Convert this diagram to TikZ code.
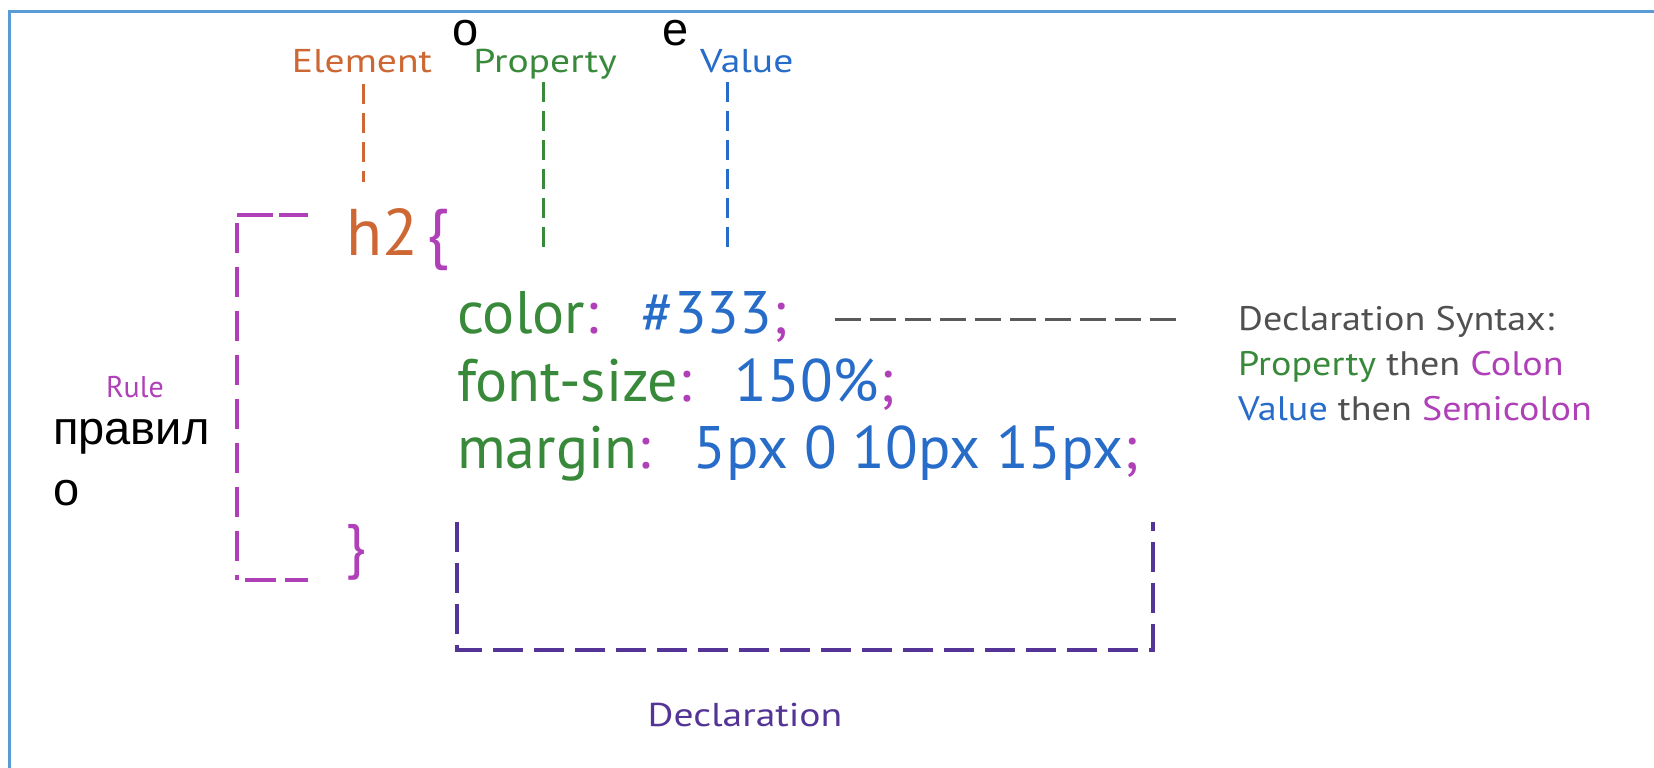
\documentclass[tikz,border=0pt]{standalone}
\usepackage{fontspec}
\setmainfont{PT Sans}
\newfontfamily\ovlfont{Liberation Sans}
\newfontfamily\widefont[FakeStretch=1.2]{PT Sans}
\newfontfamily\synfont[FakeStretch=1.12]{PT Sans}
\definecolor{cssorange}{RGB}{205,104,52}
\definecolor{cssgreen}{RGB}{56,138,58}
\definecolor{cssblue}{RGB}{38,108,200}
\definecolor{cssmag}{RGB}{176,64,184}
\definecolor{cssdecl}{RGB}{84,52,150}
\definecolor{cssgray}{RGB}{80,80,80}
\definecolor{cssline}{RGB}{90,90,90}
\definecolor{cssframe}{RGB}{91,155,213}
\newcommand\csP[1]{\textcolor{cssgreen}{#1}}
\newcommand\csV[1]{\textcolor{cssblue}{#1}}
\newcommand\csM[1]{\textcolor{cssmag}{#1}}
\tikzset{
  lbl/.style={font=\widefont\fontsize{33}{38}\selectfont, inner sep=0pt, anchor=base},
  codeline/.style={font=\fontsize{60}{72}\selectfont, inner sep=0pt, anchor=base west},
  ovl/.style={font=\ovlfont\fontsize{47}{54}\selectfont, inner sep=0pt, text=black},
  syn/.style={font=\synfont\fontsize{34}{40}\selectfont, text=cssgray, inner sep=0pt, anchor=base west},
  vdash/.style={line width=3pt, dash pattern=on 20pt off 9pt},
  bdash/.style={line width=4pt, dash pattern=on 30pt off 11pt},
  rdash/.style={cssmag, line width=4pt},
}
\begin{document}
\begin{tikzpicture}[x=1pt,y=-1pt]
\path[use as bounding box, fill=white] (0,0) rectangle (1654,768);
% frame
\draw[cssframe, line width=3pt] (9.5,768) -- (9.5,11.6) -- (1654,11.6);

% top labels
\node[lbl, text=cssorange] (lblElem) at (362,72) {Element};
\node[lbl, text=cssgreen] (lblProp) at (545,72) {Property};
\node[lbl, text=cssblue, anchor=base west] (lblVal) at (700,72) {Value};
\node[ovl, anchor=base] (ovlO) at (466,46) {o};
\node[ovl, anchor=base] (ovlE) at (676,46) {e};

\coordinate (elemTop) at (363,84);
\coordinate (elemEnd) at (363,182);
\coordinate (propTop) at (543,82);
\coordinate (propEnd) at (543,253);
\coordinate (valTop) at (727,82);
\coordinate (valEnd) at (727,253);
\draw[vdash, cssorange] (elemTop) -- (elemEnd);
\draw[vdash, cssgreen] (propTop) -- (propEnd);
\draw[vdash, cssblue] (valTop) -- (valEnd);

% selector and braces
\node[inner sep=0pt, anchor=base west, font=\fontsize{66}{78}\selectfont] (sel) at (346,255) {\textcolor{cssorange}{h2}\hspace{0.12em}\csM{\{}};
\node[codeline] (close) at (345,566) {\csM{\}}};

% rule bracket
\coordinate (ruleA) at (308,215);
\coordinate (ruleB) at (237,215);
\coordinate (ruleC) at (237,580);
\coordinate (ruleD) at (308,580);
\coordinate (ruleE) at (245,580);
\draw[rdash, dash pattern=on 36pt off 6pt] (ruleB) -- (ruleA);
\draw[rdash, dash pattern=on 30pt off 14pt] ([yshift=-8pt]ruleB) -- (ruleC);
\draw[rdash, dash pattern=on 31pt off 9pt] (ruleE) -- (ruleD);
\node[anchor=center, inner sep=0pt, text=cssmag, font=\fontsize{30}{36}\selectfont] (lblRule) at (135,387) {Rule};
\node[ovl, anchor=base west] (ru1) at (53,444) {правил};
\node[ovl, anchor=base west] (ru2) at (53,505) {о};

% code lines
\node[codeline] (code1) at (457,333) {\csP{color}\csM{:}\hspace{0.72em}\csV{\#333}\csM{;}};
\node[codeline] (code2) at (457,401) {\csP{font-size}\csM{:}\hspace{0.72em}\csV{150\%}\csM{;}};
\node[codeline] (code3) at (457,468) {\csP{margin}\csM{:}\hspace{0.72em}\csV{5px 0 10px 15px}\csM{;}};

% declaration syntax
\coordinate (grayA) at (835,319);
\coordinate (grayB) at (1176,319);
\draw[cssline, line width=3pt, dash pattern=on 26pt off 9pt] (grayA) -- (grayB);
\node[syn] (syn1) at (1238,330) {Declaration Syntax:};
\node[syn] (syn2) at (1238,375) {\csP{Property} then \csM{Colon}};
\node[syn] (syn3) at (1238,420) {\csV{Value} then \csM{Semicolon}};

% declaration box
\coordinate (declA) at (457,522);
\coordinate (declB) at (457,650);
\coordinate (declC) at (1153,650);
\coordinate (declD) at (1153,522);
\draw[cssdecl, bdash] (declA) -- (declB) -- (declC) -- (declD);
\node[lbl, anchor=center, text=cssdecl] (lblDecl) at (745,715) {Declaration};
\end{tikzpicture}
\end{document}
